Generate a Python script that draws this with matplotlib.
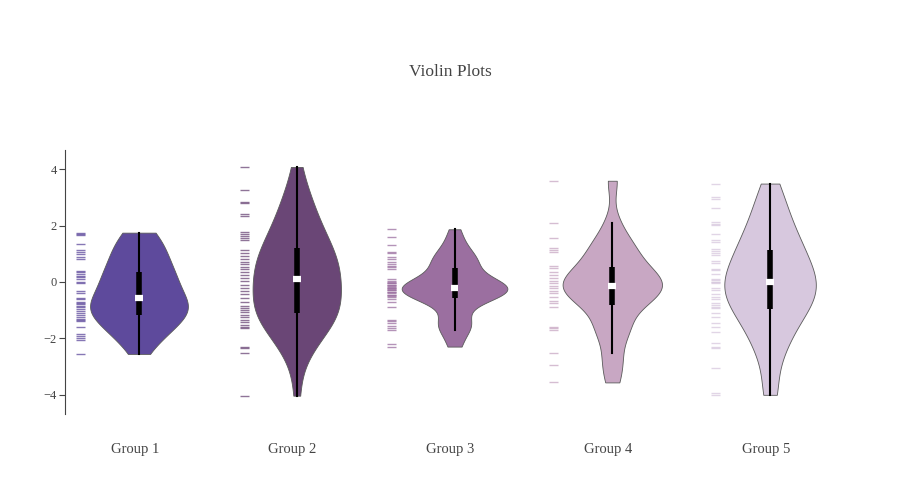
import numpy as np
import matplotlib.pyplot as plt

groups = ["Group 1", "Group 2", "Group 3", "Group 4", "Group 5"]
g1 = [1.75, 1.70, 1.65, 1.35, 1.12, 1.05, 0.99, 0.87, 0.80, 0.40, 0.34, 0.28,
      0.22, 0.17, 0.10, 0.01, -0.05, -0.31, -0.38, -0.55, -0.60, -0.70, -0.73,
      -0.78, -0.84, -0.90, -0.96, -1.02, -1.09, -1.16, -1.23, -1.30, -1.35,
      -1.40, -1.60, -1.84, -1.91, -1.98, -2.05, -2.55]
g2 = [4.08, 3.26, 2.84, 2.79, 2.41, 2.35, 1.76, 1.70, 1.64, 1.55, 1.49, 1.13,
      1.04, 0.93, 0.81, 0.70, 0.63, 0.54, 0.46, 0.36, 0.25, 0.15, 0.04, -0.11,
      -0.20, -0.32, -0.44, -0.58, -0.70, -0.84, -0.91, -0.99, -1.07, -1.17,
      -1.25, -1.35, -1.43, -1.52, -1.58, -1.64, -2.29, -2.35, -2.53, -4.03]
g3 = [1.87, 1.60, 1.31, 1.07, 1.02, 0.90, 0.80, 0.72, 0.64, 0.55, 0.54, 0.46,
      0.10, 0.04, 0.00, -0.02, -0.05, -0.10, -0.11, -0.15, -0.17, -0.20, -0.22,
      -0.25, -0.28, -0.30, -0.34, -0.35, -0.40, -0.45, -0.46, -0.50, -0.54,
      -0.61, -0.70, -0.90, -1.35, -1.40, -1.46, -1.56, -1.64, -1.70, -2.19,
      -2.29]
g4 = [3.59, 2.10, 1.55, 1.19, 1.13, 1.07, 0.57, 0.48, 0.36, 0.25, 0.13, 0.05,
      -0.05, -0.14, -0.22, -0.31, -0.38, -0.52, -0.66, -0.75, -0.87, -1.58,
      -1.64, -1.70, -2.50, -2.94, -3.56]
g5 = [3.49, 3.02, 2.96, 2.61, 2.13, 2.07, 2.01, 1.69, 1.49, 1.43, 1.17, 1.10,
      1.02, 0.96, 0.74, 0.66, 0.46, 0.42, 0.27, 0.12, 0.07, 0.01, 0.00, -0.05,
      -0.22, -0.28, -0.44, -0.52, -0.60, -0.75, -0.81, -0.87, -0.93, -1.11,
      -1.23, -1.46, -1.58, -1.76, -2.17, -2.29, -2.35, -3.06, -3.94, -4.00]
data = [g1, g2, g3, g4, g5]
colors = ["#5e4a9c", "#6a4676", "#9b6fa0", "#c8a7c3", "#d7c8de"]
half_widths = [0.31, 0.28, 0.335, 0.315, 0.29]

plt.rcParams['font.family'] = ['Liberation Serif', 'DejaVu Serif']

fig = plt.figure(figsize=(9, 5), dpi=100)
ax = fig.add_axes([65 / 900, 1 - 414 / 500, 780 / 900, 264 / 500])


def kde(vals, grid):
    vals = np.asarray(vals)
    n = len(vals)
    q1, q3 = np.percentile(vals, [25, 75])
    bw = 0.95 * 1.059 * min(vals.std(ddof=1), (q3 - q1) / 1.349) * n ** -0.2
    d = np.exp(-0.5 * ((grid[:, None] - vals[None, :]) / bw) ** 2).sum(axis=1)
    return d / d.max()


for i, (vals, col, hw) in enumerate(zip(data, colors, half_widths)):
    vals = np.asarray(vals)
    grid = np.linspace(vals.min(), vals.max(), 300)
    w = kde(vals, grid) * hw
    ax.fill_betweenx(grid, i - w, i + w, facecolor=col, edgecolor="#5a5a5a",
                     linewidth=0.6, zorder=2)

    # box + whiskers
    q1, med, q3 = np.percentile(vals, [25, 50, 75])
    iqr = q3 - q1
    lo = vals[vals >= q1 - 1.5 * iqr].min()
    hi = vals[vals <= q3 + 1.5 * iqr].max()
    ax.plot([i, i], [lo, hi], color="black", lw=1.5, zorder=3)
    ax.plot([i, i], [q1, q3], color="black", lw=4, solid_capstyle="butt", zorder=4)
    ax.plot([i - 0.025, i + 0.025], [med, med], color="white", lw=4.5,
            solid_capstyle="butt", zorder=5)

    # rug, sits just left of the violin
    rc = i - 1.19 * hw
    ax.hlines(vals, rc - 0.028, rc + 0.028, color=col, alpha=0.75, lw=1, zorder=2)

ax.set_xlim(-0.469, 4.475)
ax.set_ylim(-4.68, 4.68)
ax.set_yticks([-4, -2, 0, 2, 4])
ax.set_yticklabels(["\u22124", "\u22122", "0", "2", "4"])
# category labels sit a few px left of the violin centres
ax.set_xticks(np.arange(len(groups)) - 0.027)
ax.set_xticklabels(groups)

for s in ["top", "right", "bottom"]:
    ax.spines[s].set_visible(False)
ax.spines["left"].set_color("#444444")
ax.tick_params(axis="y", length=4, color="#444444", labelcolor="#444444",
               labelsize=9, pad=2)
ax.tick_params(axis="x", length=0, labelcolor="#444444", labelsize=10.5, pad=21)

fig.text(0.5, 1 - 72 / 500, "Violin Plots", ha="center", va="center",
         fontsize=12.5, color="#444444")

fig.savefig("out.png", dpi=100, facecolor="white")
